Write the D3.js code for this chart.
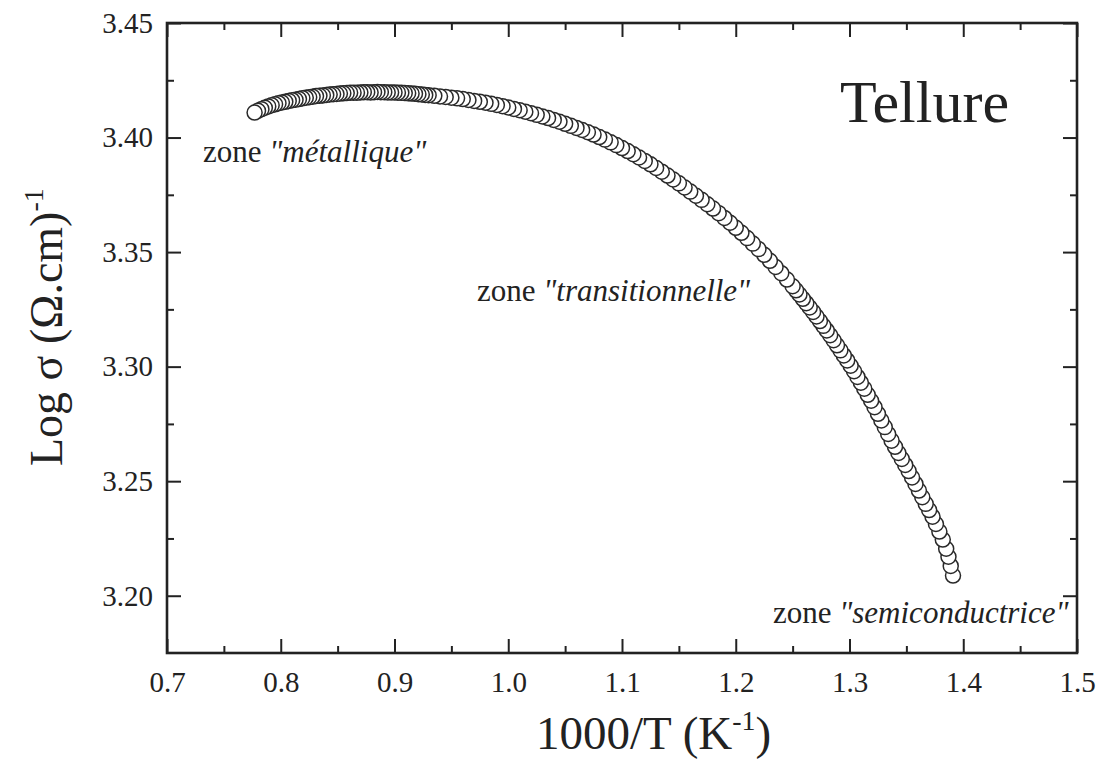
<!DOCTYPE html>
<html>
<head>
<meta charset="utf-8">
<script src="https://cdn.jsdelivr.net/npm/d3@7"></script>
<style>
  body { margin: 0; background: #fff; }
  svg text { font-family: "Liberation Serif", "Times New Roman", serif; fill: #222; }
  .axis path { display: none; }
  .axis line { stroke: #222; stroke-width: 2; }
  .axis text { font-size: 29px; fill: #222; font-family: "Liberation Serif", serif; }
</style>
</head>
<body>
<div id="chart-area"></div>
<script>
// data: 1000/T (K^-1) and Log sigma
let xVals = [
  0.777, 0.780, 0.783, 0.786, 0.789, 0.792, 0.795, 0.798, 0.801, 0.804,
  0.807, 0.810, 0.813, 0.816, 0.819, 0.822, 0.825, 0.828, 0.831, 0.834,
  0.837, 0.840, 0.843, 0.846, 0.849, 0.852, 0.855, 0.858, 0.861, 0.864,
  0.867, 0.870, 0.873, 0.876, 0.879, 0.882, 0.885, 0.888, 0.891, 0.894,
  0.897, 0.900, 0.903, 0.906, 0.909, 0.912, 0.915, 0.918, 0.921, 0.924,
  0.927, 0.930,
  0.935, 0.940, 0.945, 0.950, 0.955, 0.960, 0.965, 0.970, 0.975, 0.980,
  0.985, 0.990, 0.995, 1.000, 1.005, 1.010, 1.015, 1.020, 1.025, 1.030,
  1.035, 1.040, 1.045, 1.050, 1.055, 1.060, 1.065, 1.070, 1.075, 1.080,
  1.085, 1.090, 1.095, 1.100,
  1.105, 1.110, 1.115, 1.120, 1.125, 1.130, 1.135, 1.140, 1.145, 1.150,
  1.155, 1.160, 1.165, 1.170, 1.175, 1.180, 1.185, 1.190, 1.195, 1.200,
  1.205, 1.210, 1.215, 1.220, 1.225, 1.230, 1.235, 1.240, 1.245, 1.250,
  1.253, 1.256, 1.259, 1.262, 1.265, 1.268, 1.271, 1.274, 1.277, 1.280,
  1.283, 1.286, 1.289, 1.292, 1.295, 1.298, 1.301, 1.304, 1.307, 1.310,
  1.313, 1.316, 1.319, 1.322, 1.325, 1.328, 1.331, 1.334, 1.337, 1.340,
  1.343, 1.346, 1.349, 1.352, 1.355, 1.358, 1.361, 1.364, 1.367, 1.370,
  1.373, 1.376, 1.379, 1.382, 1.385, 1.387, 1.389, 1.391
];
let yVals = [
  3.4109, 3.4117, 3.4124, 3.4130, 3.4136, 3.4141, 3.4145, 3.4150, 3.4153, 3.4156,
  3.4160, 3.4163, 3.4165, 3.4168, 3.4171, 3.4174, 3.4176, 3.4178, 3.4181, 3.4182,
  3.4184, 3.4186, 3.4188, 3.4189, 3.4190, 3.4192, 3.4193, 3.4194, 3.4196, 3.4196,
  3.4196, 3.4197, 3.4198, 3.4198, 3.4197, 3.4198, 3.4199, 3.4198, 3.4198, 3.4197,
  3.4197, 3.4197, 3.4196, 3.4195, 3.4194, 3.4193, 3.4192, 3.4191, 3.4189, 3.4188,
  3.4186, 3.4185,
  3.4182, 3.4179, 3.4177, 3.4174, 3.4171, 3.4168, 3.4164, 3.4160, 3.4156, 3.4152,
  3.4147, 3.4142, 3.4137, 3.4131, 3.4125, 3.4119, 3.4113, 3.4106, 3.4099, 3.4092,
  3.4085, 3.4077, 3.4069, 3.4060, 3.4051, 3.4042, 3.4033, 3.4023, 3.4013, 3.4002,
  3.3991, 3.3979, 3.3967, 3.3954,
  3.3941, 3.3927, 3.3913, 3.3898, 3.3883, 3.3867, 3.3851, 3.3834, 3.3817, 3.3800,
  3.3782, 3.3764, 3.3746, 3.3728, 3.3709, 3.3690, 3.3670, 3.3649, 3.3628, 3.3606,
  3.3584, 3.3561, 3.3537, 3.3513, 3.3488, 3.3462, 3.3435, 3.3408, 3.3380, 3.3351,
  3.3333, 3.3315, 3.3296, 3.3277, 3.3258, 3.3239, 3.3219, 3.3199, 3.3178, 3.3158,
  3.3137, 3.3115, 3.3093, 3.3071, 3.3049, 3.3027, 3.3004, 3.2980, 3.2955, 3.2930,
  3.2904, 3.2877, 3.2851, 3.2823, 3.2794, 3.2765, 3.2736, 3.2706, 3.2677, 3.2650,
  3.2623, 3.2597, 3.2571, 3.2544, 3.2516, 3.2488, 3.2459, 3.2430, 3.2401, 3.2374,
  3.2345, 3.2313, 3.2280, 3.2245, 3.2205, 3.2170, 3.2130, 3.2088
];

let xMajor = [0.7, 0.8, 0.9, 1.0, 1.1, 1.2, 1.3, 1.4, 1.5];
let xMinor = [0.75, 0.85, 0.95, 1.05, 1.15, 1.25, 1.35, 1.45];
let yMajor = [3.20, 3.25, 3.30, 3.35, 3.40, 3.45];
let yMinor = [3.225, 3.275, 3.325, 3.375, 3.425];

let data = xVals.map((x, i) => ({x: x, y: yVals[i]}));

// frame of the plot inside the 1100x759 page
let margin = {top: 23, right: 23, bottom: 106, left: 167};
let width = 1100 - margin.left - margin.right;
let height = 759 - margin.top - margin.bottom;

let svg = d3.select("#chart-area").append("svg")
    .attr("width", 1100)
    .attr("height", 759)
  .append("g")
    .attr("transform", "translate(" + margin.left + "," + margin.top + ")");

let xScale = d3.scaleLinear().domain([0.7, 1.5]).range([0, width]);
let yScale = d3.scaleLinear().domain([3.175, 3.45]).range([height, 0]);

// bottom axis (ticks point inward)
svg.append("g")
    .attr("class", "axis")
    .attr("transform", `translate(0,${height})`)
    .call(d3.axisBottom(xScale).tickValues(xMajor).tickSize(-14).tickPadding(18)
        .tickFormat(d3.format(".1f")));
svg.append("g")
    .attr("class", "axis")
    .attr("transform", `translate(0,${height})`)
    .call(d3.axisBottom(xScale).tickValues(xMinor).tickSize(-7).tickFormat(""));

// top axis
svg.append("g")
    .attr("class", "axis")
    .call(d3.axisTop(xScale).tickValues(xMajor).tickSize(-14).tickFormat(""));
svg.append("g")
    .attr("class", "axis")
    .call(d3.axisTop(xScale).tickValues(xMinor).tickSize(-7).tickFormat(""));

// left axis
svg.append("g")
    .attr("class", "axis")
    .call(d3.axisLeft(yScale).tickValues(yMajor).tickSize(-14).tickPadding(14)
        .tickFormat(d3.format(".2f")));
svg.append("g")
    .attr("class", "axis")
    .call(d3.axisLeft(yScale).tickValues(yMinor).tickSize(-7).tickFormat(""));

// right axis
svg.append("g")
    .attr("class", "axis")
    .attr("transform", `translate(${width},0)`)
    .call(d3.axisRight(yScale).tickValues(yMajor).tickSize(-14).tickFormat(""));
svg.append("g")
    .attr("class", "axis")
    .attr("transform", `translate(${width},0)`)
    .call(d3.axisRight(yScale).tickValues(yMinor).tickSize(-7).tickFormat(""));

// frame
svg.append("rect")
    .attr("width", width)
    .attr("height", height)
    .attr("fill", "none")
    .attr("stroke", "#222")
    .attr("stroke-width", 2.6);

// points, drawn from right to left so the first one sits on top
svg.selectAll("circle")
    .data(data.slice().reverse())
    .enter()
    .append("circle")
    .attr("cx", d => xScale(d.x))
    .attr("cy", d => yScale(d.y))
    .attr("r", 7.5)
    .attr("fill", "#fff")
    .attr("stroke", "#2a2a2a")
    .attr("stroke-width", 1.5);

// annotations (page coordinates)
let page = d3.select("svg");

page.append("text")
    .attr("x", 840).attr("y", 122)
    .style("font-size", "60px")
    .text("Tellure");

function zoneLabel(x, y, word) {
  let t = page.append("text")
      .attr("x", x).attr("y", y)
      .style("font-size", "31px");
  t.append("tspan").text("zone ");
  t.append("tspan").style("font-style", "italic").text('"' + word + '"');
}
zoneLabel(203, 162, "métallique");
zoneLabel(477, 301, "transitionnelle");
zoneLabel(773, 623, "semiconductrice");

// x axis title
let xt = page.append("text")
    .attr("x", 536).attr("y", 749)
    .style("font-size", "47px");
xt.append("tspan").text("1000/T (K");
xt.append("tspan").attr("dy", -19).style("font-size", "28px").text("-1");
xt.append("tspan").attr("dy", 19).text(")");

// y axis title
let yt = page.append("text")
    .attr("transform", "translate(62,466) rotate(-90)")
    .style("font-size", "46px");
yt.append("tspan").text("Log σ (Ω.cm)");
yt.append("tspan").attr("dy", -19).style("font-size", "28px").text("-1");
</script>
</body>
</html>
